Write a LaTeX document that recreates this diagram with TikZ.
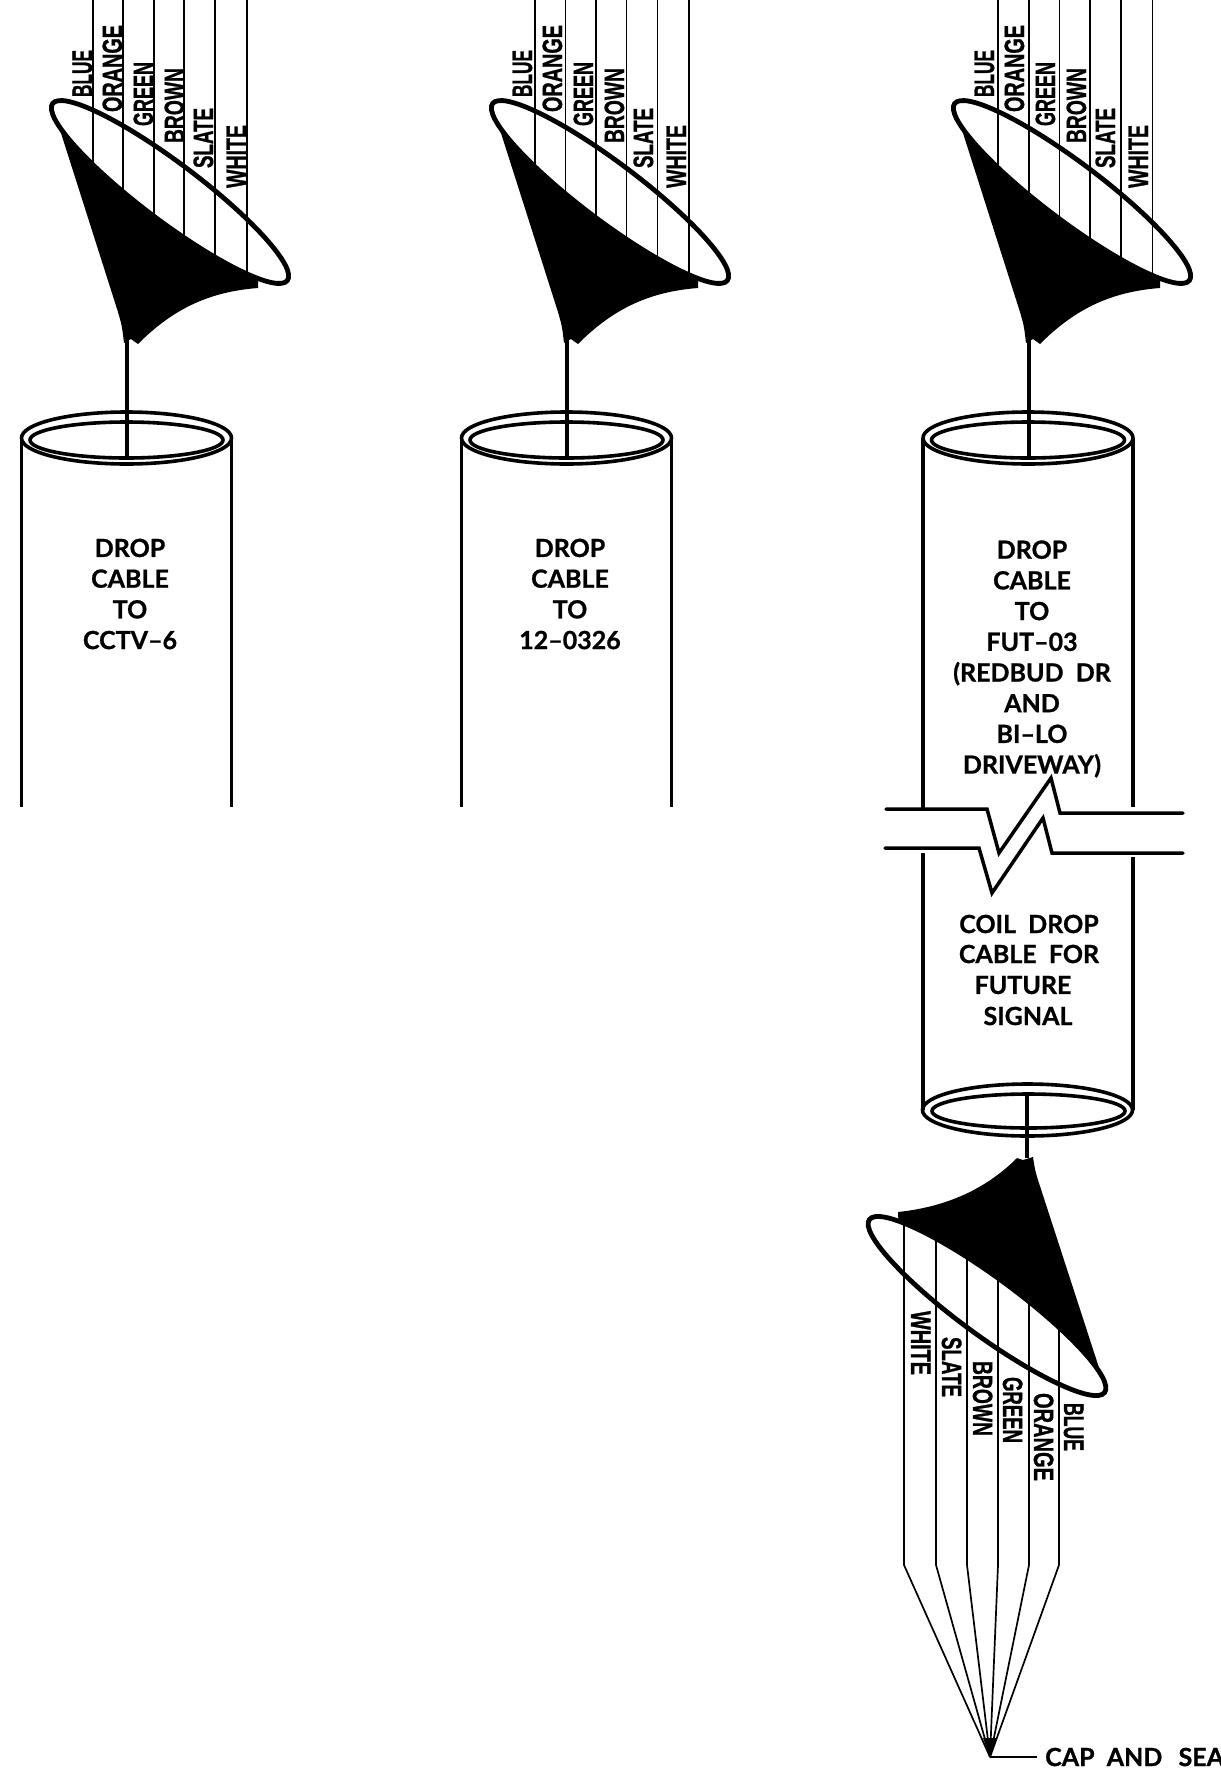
\documentclass[tikz,border=0pt]{standalone}
\usepackage{graphicx}
\usepackage{fontspec}
\setmainfont{Liberation Sans}[BoldFeatures={FakeBold=1.2}]
\newfontfamily\capsfont{Lato}[BoldFeatures={FakeBold=0.9}]
\tikzset{
  ring/.style={line width=4.8pt},
  cyl/.style={line width=3.5pt},
  cylcap/.style={line width=3.6pt},
  wire/.style={line width=1.7pt},
  stem/.style={line width=4pt},
  wlabel/.style={inner sep=0pt,outer sep=0pt,anchor=base west,font=\fontsize{28}{28}\selectfont\bfseries},
  caption/.style={inner sep=0pt,align=center,font=\capsfont\bfseries\fontsize{25}{30.7}\selectfont},
}
\newcommand{\wl}[6]{\node[wlabel,rotate=#1] (#2) at (#3,#4) {\resizebox{#5pt}{19.5pt}{#6}};}
% #1 id, #2 cone shift, #3 wire shift
\newcommand{\upcone}[3]{%
  \begin{scope}[shift={(#3,0)}]
    \foreach \wx/\wy in {92.7/169,123.3/198,154/221,184.3/244,215.3/263,247/279}
      \draw[wire] (\wx,0) -- (\wx,\wy);
  \end{scope}
  \begin{scope}[shift={(#2,0)}]
    \wl{90}{blue#1}{92}{97}{47}{BLUE}
    \wl{90}{orange#1}{122}{112}{87}{ORANGE}
    \wl{90}{green#1}{153}{126}{64}{GREEN}
    \wl{90}{brown#1}{184}{143}{75}{BROWN}
    \wl{90}{slate#1}{213}{168}{60}{SLATE}
    \wl{90}{white#1}{246}{188}{63}{WHITE}
    \fill (53,108) -- (118,312) .. controls (122,326) .. (124,343) -- (131,339) -- (138,344)
      .. controls (170,312) and (205,292) .. (258,288) -- (258,281)
      -- plot[domain=32:180,samples=50] ({170+147*cos(\x)*cos(37)-29*sin(\x)*sin(37)},{192+147*cos(\x)*sin(37)+29*sin(\x)*cos(37)}) -- cycle;
    \draw[ring,rotate around={-37:(170,192)}] (170,192) ellipse [x radius=147,y radius=29];
    \coordinate (apex#1) at (127,340);
    \coordinate (floor#1) at (127,457);
    \draw[stem] (apex#1) -- (floor#1);
  \end{scope}
}
\newcommand{\cyltop}[1]{%
  \begin{scope}[shift={(#1,0)}]
    \draw[cylcap] (126.5,438) ellipse [x radius=105,y radius=26];
    \draw[cylcap] (126.5,440) ellipse [x radius=96.5,y radius=18];
  \end{scope}
}
\begin{document}
\begin{tikzpicture}[x=1pt,y=-1pt]
\useasboundingbox (0,0) rectangle (1221,1773);
\upcone{A}{0}{0}
\upcone{B}{440}{442.3}
\upcone{C}{902}{905.5}
\cyltop{0}\cyltop{440}\cyltop{901.5}
% cylinder sides
\draw[cyl] (21.5,438) -- (21.5,807);
\draw[cyl] (231.5,438) -- (231.5,807);
\draw[cyl] (461.5,438) -- (461.5,807);
\draw[cyl] (671.5,438) -- (671.5,807);
\draw[cyl] (923,438) -- (923,808);
\draw[cyl] (1133,438) -- (1133,807);
\draw[cyl] (923,853) -- (923,1110);
\draw[cyl] (1133,857) -- (1133,1110);
% captions
\node[caption] (capA) at (130,594) {DROP\\CABLE\\TO\\CCTV–6};
\node[caption] (capB) at (570,594) {DROP\\CABLE\\TO\\12–0326};
\node[caption] (capC) at (1032,659) {DROP\\CABLE\\TO\\FUT–03\\(REDBUD\ \ DR\\AND\\BI–LO\\DRIVEWAY)};
\node[caption] (capD) at (1029,924) {COIL\ \ DROP};
\node[caption] (capE) at (1029,954) {CABLE\ \ FOR};
\node[caption] (capF) at (1023,985) {FUTURE};
\node[caption] (capG) at (1028,1016) {SIGNAL};
% break
\draw[cyl,line join=miter,line cap=round] (886,809) -- (987,809) -- (999,853) -- (1051,778) -- (1060,813) -- (1183,813);
\draw[cyl,line join=miter,line cap=round] (885,848) -- (979,848) -- (992,893) -- (1043,818) -- (1052,853) -- (1183,853);
% lower end
\draw[cylcap] (1027.5,1110) ellipse [x radius=105,y radius=26];
\draw[cylcap] (1028.5,1111) ellipse [x radius=96.5,y radius=17];
\coordinate (botapex) at (990,1757);
\coordinate (endleader) at (1037,1757);
\foreach \wx/\wy in {904/1219,936/1232,967/1251,998/1272,1029/1296,1059/1322}
  \draw[wire,line join=round] (\wx,\wy) -- (\wx,1565) -- (botapex);
\fill (983,1738) -- (997,1738) -- (botapex) -- cycle;
\draw[line width=2.2pt] (botapex) -- (endleader);
\node[caption,anchor=west] (capH) at (1045,1757) {CAP\ \ AND\ \ \hspace{4pt}SEA};
\wl{-90}{whiteL}{911}{1311}{64}{WHITE}
\wl{-90}{slateL}{942}{1337}{60}{SLATE}
\wl{-90}{brownL}{973}{1361}{75}{BROWN}
\wl{-90}{greenL}{1003}{1377}{66}{GREEN}
\wl{-90}{orangeL}{1034}{1393}{88}{ORANGE}
\wl{-90}{blueL}{1064}{1403}{48}{BLUE}
\fill (1017,1158) -- (1023,1160) -- (1033,1157) .. controls (1035,1170) .. (1038,1180) -- (1103,1380)
  -- plot[domain=360:214,samples=50] ({987+147*cos(\x)*cos(36.3)-29*sin(\x)*sin(36.3)},{1306+147*cos(\x)*sin(36.3)+29*sin(\x)*cos(36.3)})
  -- (898,1212) .. controls (945,1207) and (985,1190) .. cycle;
\draw[ring,rotate around={-36.3:(987,1306)}] (987,1306) ellipse [x radius=146,y radius=29];
\coordinate (botstemA) at (1027,1094);
\coordinate (botstemB) at (1027,1158);
\draw[stem] (botstemA) -- (botstemB);
\end{tikzpicture}
\end{document}
